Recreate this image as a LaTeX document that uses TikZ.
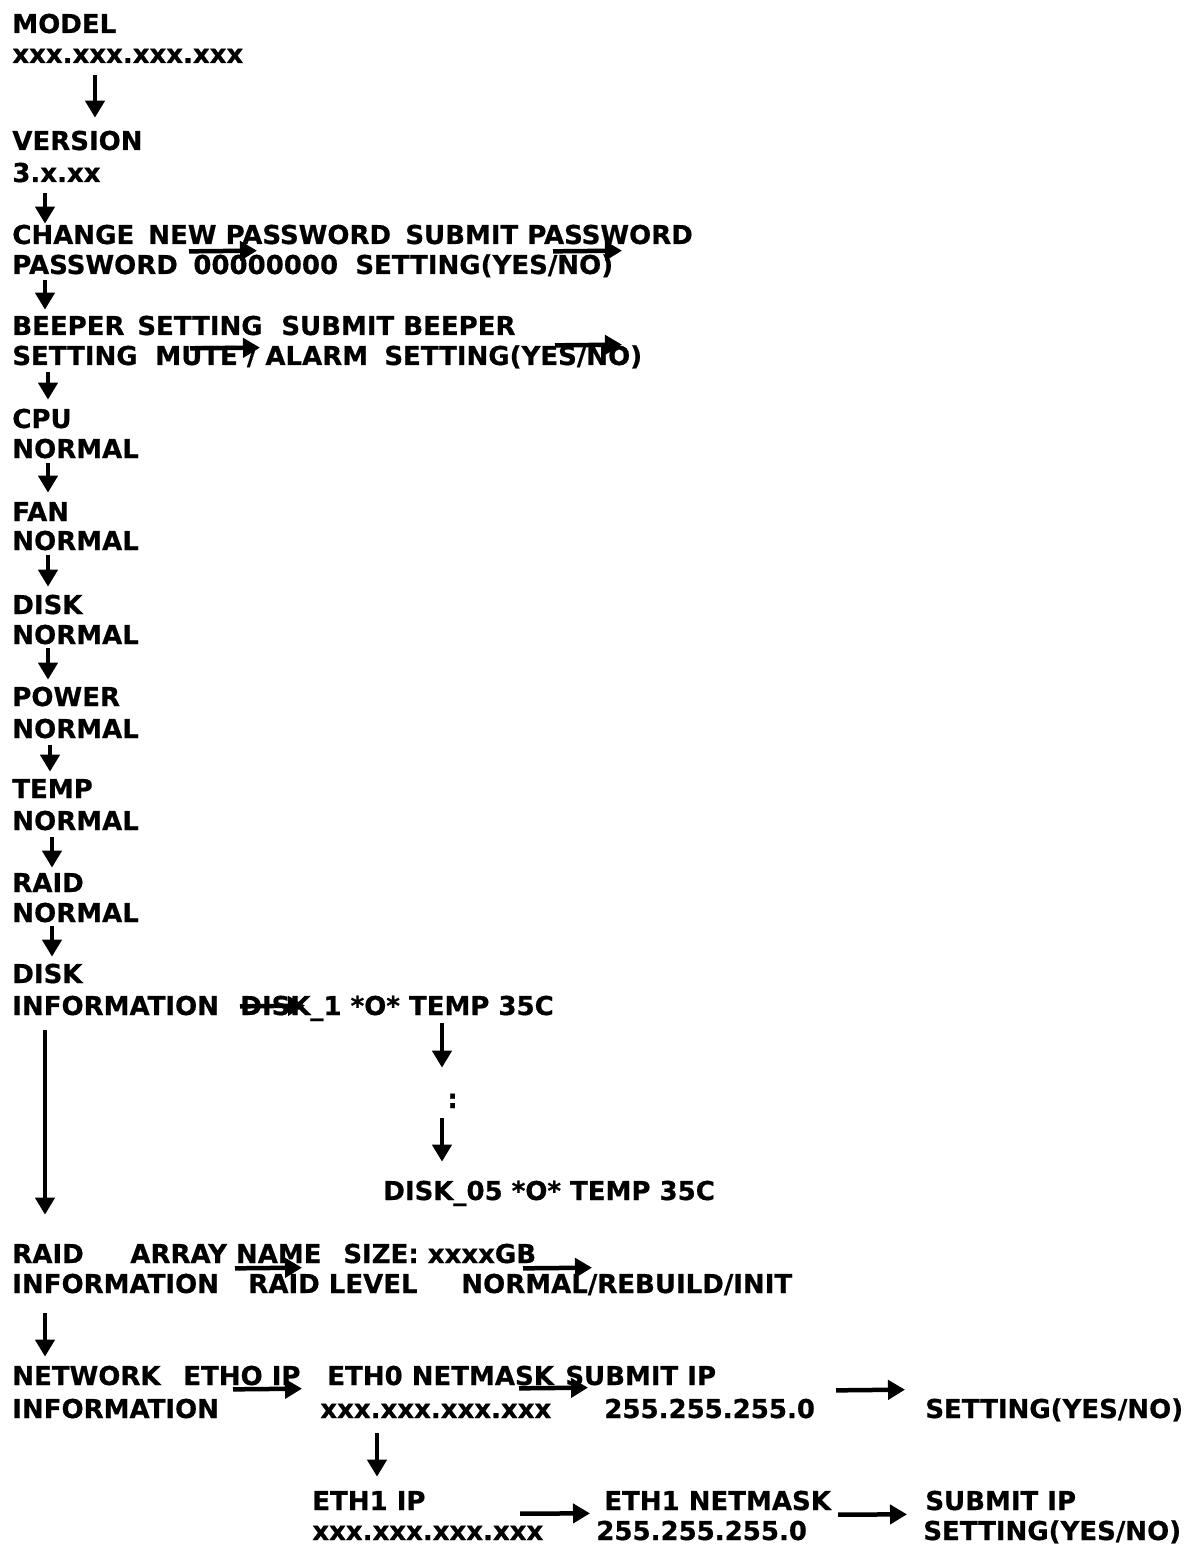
\documentclass[tikz,border=0pt]{standalone}
\usepackage{fontspec}
\setsansfont{DejaVu Sans}[BoldFeatures={FakeBold=0.6}]
\usetikzlibrary{arrows.meta,calc}

\begin{document}
\begin{tikzpicture}[x=0.02cm,y=-0.02cm,
		lbl/.style={anchor=base west,inner sep=0pt,text height=0.38cm,text depth=0.08cm,
			font=\sffamily\bfseries\fontsize{14.8}{18}\selectfont},
		flow/.style={-{Triangle[length=0.34cm,width=0.38cm]},line width=0.09cm}]
			\useasboundingbox (0,0) rectangle (1201,1557);
			\node[lbl] (model) at (12,33) {MODEL};
			\node[lbl] (modelip) at (12,63) {xxx.xxx.xxx.xxx};
			\node[lbl] (version) at (12,150) {VERSION};
			\node[lbl] (vernum) at (12,182) {3.x.xx};
			\node[lbl] (chpw) at (12,244) {CHANGE};
			\node[lbl] (newpw) at (148,244) {NEW PASSWORD};
			\node[lbl] (subpw) at (405,244) {SUBMIT PASSWORD};
			\node[lbl] (chpw2) at (12,274) {PASSWORD};
			\node[lbl] (pwval) at (193,274) {00000000};
			\node[lbl] (pwyes) at (355,274) {SETTING(YES/NO)};
			\node[lbl] (beep) at (12,335) {BEEPER};
			\node[lbl] (beepset) at (137,335) {SETTING};
			\node[lbl] (subbeep) at (281,335) {SUBMIT BEEPER};
			\node[lbl] (beep2) at (12,365) {SETTING};
			\node[lbl] (mute) at (155,365) {MUTE / ALARM};
			\node[lbl] (beepyes) at (384,365) {SETTING(YES/NO)};
			\node[lbl] (cpu) at (12,428) {CPU};
			\node[lbl] (cpust) at (12,458) {NORMAL};
			\node[lbl] (fan) at (12,521) {FAN};
			\node[lbl] (fanst) at (12,550) {NORMAL};
			\node[lbl] (disk) at (12,614) {DISK};
			\node[lbl] (diskst) at (12,644) {NORMAL};
			\node[lbl] (power) at (12,706) {POWER};
			\node[lbl] (powerst) at (12,738) {NORMAL};
			\node[lbl] (temp) at (12,798) {TEMP};
			\node[lbl] (tempst) at (12,830) {NORMAL};
			\node[lbl] (raid) at (12,892) {RAID};
			\node[lbl] (raidst) at (12,922) {NORMAL};
			\node[lbl] (dinfo) at (12,983) {DISK};
			\node[lbl] (dinfo2) at (12,1015) {INFORMATION};
			\node[lbl] (dfirst) at (240,1015) {DISK\_1 *O* TEMP 35C};
			\node[lbl] (dots) at (447,1108) {:};
			\node[lbl] (dlast) at (383,1200) {DISK\_05 *O* TEMP 35C};
			\node[lbl] (rinfo) at (12,1263) {RAID};
			\node[lbl] (rname) at (130,1263) {ARRAY NAME};
			\node[lbl] (rsize) at (343,1263) {SIZE: xxxxGB};
			\node[lbl] (rinfo2) at (12,1293) {INFORMATION};
			\node[lbl] (rlevel) at (248,1293) {RAID LEVEL};
			\node[lbl] (rstate) at (461,1293) {NORMAL/REBUILD/INIT};
			\node[lbl] (net) at (12,1385) {NETWORK};
			\node[lbl] (eth0) at (183,1385) {ETHO IP};
			\node[lbl] (eth0mask) at (327,1385) {ETH0 NETMASK};
			\node[lbl] (eth0sub) at (565,1385) {SUBMIT IP};
			\node[lbl] (net2) at (12,1418) {INFORMATION};
			\node[lbl] (eth0ip) at (320,1418) {xxx.xxx.xxx.xxx};
			\node[lbl] (eth0mv) at (604,1418) {255.255.255.0};
			\node[lbl] (eth0yes) at (925,1418) {SETTING(YES/NO)};
			\node[lbl] (eth1) at (312,1510) {ETH1 IP};
			\node[lbl] (eth1ip) at (312,1540) {xxx.xxx.xxx.xxx};
			\node[lbl] (eth1mask) at (604,1510) {ETH1 NETMASK};
			\node[lbl] (eth1mv) at (596,1540) {255.255.255.0};
			\node[lbl] (eth1sub) at (925,1510) {SUBMIT IP};
			\node[lbl] (eth1yes) at (923,1540) {SETTING(YES/NO)};

			\draw[flow] ($(modelip.south west)+(83,8)$) -- ($(version.north west)+(83,-13)$);
			\draw[flow] ($(vernum.south west)+(33,7)$) -- ($(chpw.north west)+(33,-1)$);
			\draw[flow] ($(chpw2.south west)+(33,2)$) -- ($(beep.north west)+(33,-6)$);
			\draw[flow] ($(beep2.south west)+(36,3)$) -- ($(cpu.north west)+(36,-9)$);
			\draw[flow] ($(cpust.south west)+(36,1)$) -- ($(fan.north west)+(36,-9)$);
			\draw[flow] ($(fanst.south west)+(36,1)$) -- ($(disk.north west)+(36,-8)$);
			\draw[flow] ($(diskst.south west)+(36,0)$) -- ($(power.north west)+(36,-7)$);
			\draw[flow] ($(powerst.south west)+(38,3)$) -- ($(temp.north west)+(38,-7)$);
			\draw[flow] ($(tempst.south west)+(40,3)$) -- ($(raid.north west)+(40,-5)$);
			\draw[flow] ($(raidst.south west)+(40,0)$) -- ($(dinfo.north west)+(40,-7)$);
			\draw[flow] ($(dinfo2.south west)+(33,11)$) -- ($(rinfo.north west)+(33,-29)$);
			\draw[flow] ($(dfirst.south west)+(202,4)$) -- ($(dots.north west)+(-5,-21)$);
			\draw[flow] ($(dots.south west)+(-5,6)$) -- ($(dlast.north west)+(59,-19)$);
			\draw[flow] ($(rinfo2.south west)+(33,16)$) -- ($(net.north west)+(33,-9)$);
			\draw[flow] ($(eth0ip.south west)+(57,11)$) -- ($(eth1.north west)+(65,-14)$);

			\draw[flow] ($(newpw.south west)+(41,3)$) -- ($(pwval.north west)+(64,-4)$);
			\draw[flow] ($(subpw.south west)+(148,3)$) -- ($(pwyes.north west)+(267,-4)$);
			\draw[flow] ($(beepset.south west)+(53,9)$) -- ($(mute.north west)+(105,2)$);
			\draw[flow] ($(subbeep.south west)+(274,6)$) -- ($(beepyes.north west)+(238,-1)$);
			\draw[flow] ($(dfirst.south west)+(0,-13)$) -- ($(dfirst.north west)+(65,10)$);
			\draw[flow] ($(rname.south west)+(105,1)$) -- ($(rlevel.north west)+(54,-6)$);
			\draw[flow] ($(rsize.south west)+(180,1)$) -- ($(rstate.north west)+(131,-6)$);
			\draw[flow] ($(eth0.south west)+(50,0)$) -- ($(eth0ip.north west)+(-18,-10)$);
			\draw[flow] ($(eth0mask.south west)+(192,-1)$) -- ($(eth0mv.north west)+(-16,-11)$);
			\draw[flow] ($(eth0sub.south west)+(271,1)$) -- ($(eth0yes.north west)+(-20,-9)$);
			\draw[flow] ($(eth1ip.north west)+(208,-7)$) -- ($(eth1mask.south west)+(-14,-1)$);
			\draw[flow] ($(eth1mv.north west)+(242,-6)$) -- ($(eth1sub.south west)+(-18,0)$);
		\end{tikzpicture}
\end{document}
